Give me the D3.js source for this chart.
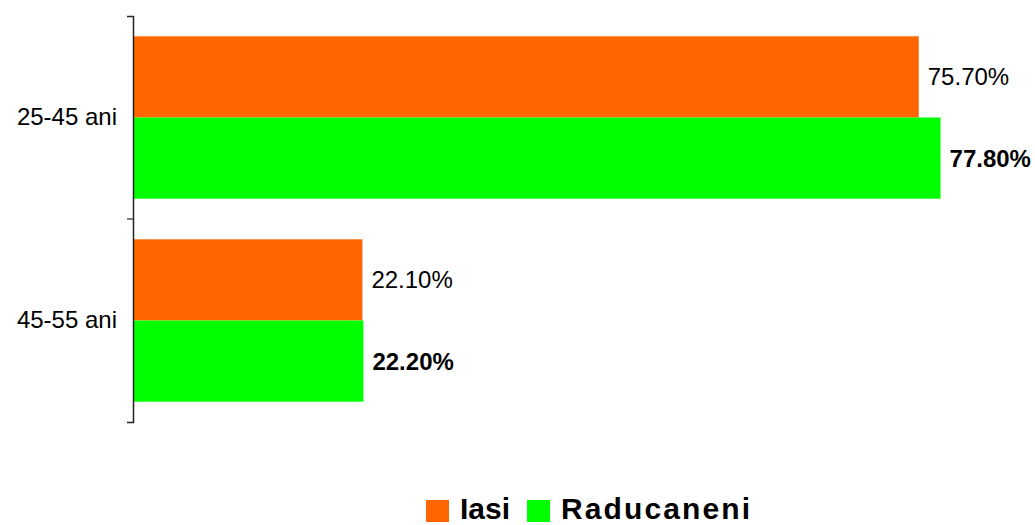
<!DOCTYPE html>
<html>
<head>
<meta charset="utf-8">
<script src="https://cdn.jsdelivr.net/npm/d3@7/dist/d3.min.js"></script>
<style>
  html, body { margin: 0; padding: 0; background: #fff; }
  svg { display: block; font-family: Arial, "Liberation Sans", sans-serif; }
</style>
</head>
<body>
<svg id="chart" width="1035" height="525"></svg>
<script>
const categories = ["25-45 ani", "45-55 ani"];
const seriesNames = ["Iasi", "Raducaneni"];
const iasiValues = [75.7, 22.1];
const raducaneniValues = [77.8, 22.2];
const valueLabels = [["75.70%", "22.10%"], ["77.80%", "22.20%"]];
const seriesColors = ["#FF6600", "#00FF00"];
const labelWeights = ["normal", "bold"];

const seriesValues = [iasiValues, raducaneniValues];

const svg = d3.select("#chart");

const axisX = 133;
const x = d3.scaleLinear().domain([0, 100]).range([axisX, axisX + 1038]);
const y = d3.scaleBand().domain(categories).range([16, 422]).padding(0);
const ySub = d3.scaleBand().domain(seriesNames).range([0, y.bandwidth()])
  .paddingInner(0).paddingOuter(0.25);

// bars
categories.forEach((cat, ci) => {
  seriesNames.forEach((s, si) => {
    const v = seriesValues[si][ci];
    svg.append("rect")
      .attr("x", x(0))
      .attr("y", y(cat) + ySub(s))
      .attr("width", x(v) - x(0))
      .attr("height", ySub.bandwidth())
      .attr("fill", seriesColors[si]);
    svg.append("text")
      .attr("x", x(v) + 9)
      .attr("y", y(cat) + ySub(s) + ySub.bandwidth() / 2)
      .attr("dy", "0.35em")
      .attr("font-size", 24)
      .attr("font-weight", labelWeights[si])
      .attr("fill", "#000")
      .text(valueLabels[si][ci]);
  });
});

// axis
const axis = d3.axisLeft(y).tickSize(0).tickSizeOuter(6).tickPadding(16);
const gAxis = svg.append("g").attr("transform", `translate(${axisX},0)`).call(axis);
gAxis.select(".domain").attr("stroke", "#222").attr("stroke-width", 1.5);
gAxis.selectAll(".tick text")
  .attr("font-size", 24)
  .attr("font-family", "Arial, 'Liberation Sans', sans-serif")
  .attr("fill", "#000");
// boundary tick between categories
categories.slice(1).forEach(cat => {
  gAxis.append("line")
    .attr("x1", -6).attr("x2", 0)
    .attr("y1", y(cat)).attr("y2", y(cat))
    .attr("stroke", "#555").attr("stroke-width", 1.5);
});

// legend
const legend = svg.append("g").attr("transform", "translate(426,500)");
const legendItems = [
  { name: seriesNames[0], color: seriesColors[0], x: 0, width: 50 },
  { name: seriesNames[1], color: seriesColors[1], x: 101, width: 189 }
];
legendItems.forEach(item => {
  legend.append("rect")
    .attr("x", item.x).attr("y", 0)
    .attr("width", 23).attr("height", 22)
    .attr("fill", item.color);
  legend.append("text")
    .attr("x", item.x + 34).attr("y", 19)
    .attr("font-size", 30)
    .attr("font-weight", "bold")
    .attr("textLength", item.width)
    .attr("lengthAdjust", "spacing")
    .attr("fill", "#000")
    .text(item.name);
});
</script>
</body>
</html>
